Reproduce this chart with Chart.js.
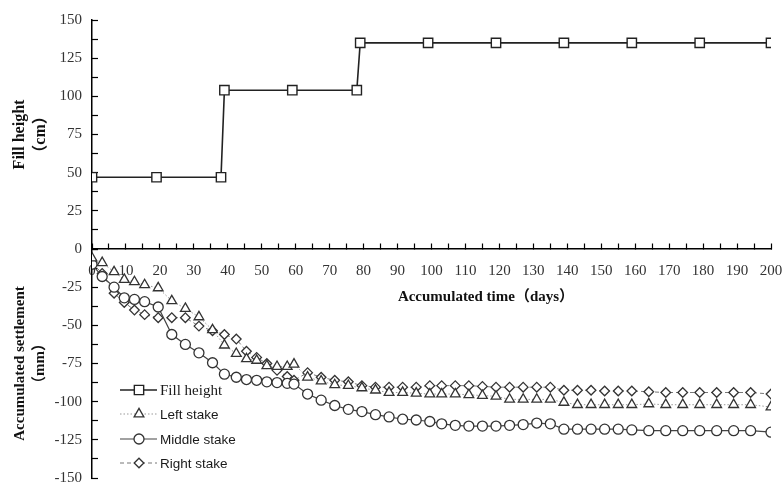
<!DOCTYPE html>
<html>
<head>
<meta charset="utf-8">
<style>
html,body{margin:0;padding:0;background:#fff;}
#wrap{width:784px;height:486px;position:relative;}
</style>
<script src="https://cdn.jsdelivr.net/npm/chart.js"></script>
</head>
<body>
<div id="wrap"><canvas id="c" width="784" height="486"></canvas></div>
<script>
// ---- data ----
const fillDays   = [0, 19, 38, 39, 59, 78, 79, 99, 119, 139, 159, 179, 200];
const fillHeight = [47, 47, 47, 104, 104, 104, 135, 135, 135, 135, 135, 135, 135];

const settleDays = [0, 3, 6.5, 9.5, 12.5, 15.5, 19.5, 23.5, 27.5, 31.5, 35.5,
  39, 42.5, 45.5, 48.5, 51.5, 54.5, 57.5, 59.5, 63.5, 67.5, 71.5, 75.5, 79.5,
  83.5, 87.5, 91.5, 95.5, 99.5, 103, 107, 111, 115, 119, 123, 127, 131, 135,
  139, 143, 147, 151, 155, 159, 164, 169, 174, 179, 184, 189, 194, 200];
const leftStake = [-6, -9, -15, -20, -21.5, -23.5, -25.5, -34, -39, -44.5, -53,
  -63, -68.5, -72, -73, -76.5, -77, -77, -75.5, -84, -86.5, -89, -89.5, -91,
  -92.5, -94, -94, -94.5, -95, -95, -95, -95.5, -96, -96.5, -98.5, -98.5, -98.5, -98.5,
  -100.5, -102, -102, -102, -102, -102, -101.5, -102, -102, -102, -102, -102, -102, -103.5];
const middleStake = [-10, -18, -25, -32, -33, -34.5, -38, -56, -62.5, -68, -74.5,
  -82, -84, -85.5, -86, -87, -87.5, -88, -88.5, -95, -99, -102.5, -105, -106.5,
  -108.5, -110, -111.5, -112, -113, -114.5, -115.5, -116, -116, -116, -115.5, -115, -114, -114.5,
  -118, -118, -118, -118, -118, -118.5, -119, -119, -119, -119, -119, -119, -119, -120];
const rightStake = [-9, -16, -29, -35, -40, -43, -45, -45, -45, -50.5, -53.5,
  -56, -59, -67, -71, -75, -79.5, -83.5, -86, -81, -84, -86, -87, -89.5,
  -90.5, -90.5, -90.5, -90.5, -89.5, -89.5, -89.5, -89.5, -90, -90.5, -90.5, -90.5, -90.5, -90.5,
  -92.5, -92.5, -92.5, -93, -93, -93, -93.5, -94, -94, -94, -94, -94, -94, -95];

const seriesLabels = ['Fill height', 'Left stake', 'Middle stake', 'Right stake'];
const xTickLabels = [0, 10, 20, 30, 40, 50, 60, 70, 80, 90, 100, 110, 120, 130, 140, 150, 160, 170, 180, 190, 200];
const fillTickLabels = [0, 25, 50, 75, 100, 125, 150];
const settleTickLabels = [-150, -125, -100, -75, -50, -25];
const xTitle = 'Accumulated time（days）';
const fillTitle = ['Fill height', '（cm）'];
const settleTitle = ['Accumulated settlement', '（mm）'];

const toXY = (xs, ys) => xs.map((x, i) => ({x: x, y: ys[i]}));

const SERIF = '"Liberation Serif", "Noto Sans CJK SC", serif';
const SANS = '"Liberation Sans", "DejaVu Sans", sans-serif';

const legendRows = [390, 414, 439, 463];
const legendFonts = ['15px ' + SERIF, '13.5px ' + SANS, '13.5px ' + SANS, '13.5px ' + SANS];

function drawMarker(ctx, style, r, x, y) {
  ctx.beginPath();
  if (style === 'rect') {
    const s = Math.SQRT1_2 * r; ctx.rect(x - s, y - s, 2 * s, 2 * s);
  } else if (style === 'triangle') {
    for (let k = 0; k < 3; k++) {
      const a = k * 2 * Math.PI / 3;
      const px = x + Math.sin(a) * r, py = y - Math.cos(a) * r;
      if (k === 0) ctx.moveTo(px, py); else ctx.lineTo(px, py);
    }
    ctx.closePath();
  } else if (style === 'rectRot') {
    ctx.moveTo(x - r, y); ctx.lineTo(x, y - r); ctx.lineTo(x + r, y); ctx.lineTo(x, y + r); ctx.closePath();
  } else {
    ctx.arc(x, y, r, 0, Math.PI * 2);
  }
  ctx.fill(); ctx.stroke();
}

const overlayPlugin = {
  id: 'overlay',
  afterDraw(chart) {
    const ctx = chart.ctx;
    // x axis title
    ctx.save();
    ctx.font = 'bold 15px ' + SERIF;
    ctx.fillStyle = '#111';
    ctx.textAlign = 'center';
    ctx.textBaseline = 'middle';
    ctx.fillText(xTitle, 486, 297);
    ctx.restore();
    // legend
    chart.data.datasets.forEach((ds, i) => {
      const y = legendRows[i];
      ctx.save();
      ctx.strokeStyle = ds.borderColor;
      ctx.lineWidth = ds.borderWidth;
      ctx.setLineDash(ds.borderDash || []);
      ctx.beginPath(); ctx.moveTo(120, y); ctx.lineTo(157, y); ctx.stroke();
      ctx.setLineDash([]);
      ctx.fillStyle = ds.pointBackgroundColor;
      ctx.strokeStyle = ds.pointBorderColor;
      ctx.lineWidth = ds.pointBorderWidth;
      drawMarker(ctx, ds.pointStyle, ds.pointRadius, 139, y);
      ctx.font = legendFonts[i];
      ctx.fillStyle = '#1a1a1a';
      ctx.textAlign = 'left';
      ctx.textBaseline = 'middle';
      ctx.fillText(ds.label, 160, y + 1);
      ctx.restore();
    });
  }
};

const axisGrid = { drawOnChartArea: false, drawTicks: true, tickLength: -6, color: '#000', tickWidth: 1.2 };
const axisBorder = { display: true, color: '#000', width: 1.5 };
const zeroPad = s => { s.paddingLeft = 0; s.paddingRight = 0; s.paddingTop = 0; s.paddingBottom = 0; };

new Chart(document.getElementById('c'), {
  type: 'line',
  data: {
    datasets: [
      { label: seriesLabels[0], data: toXY(fillDays, fillHeight), yAxisID: 'yFill',
        borderColor: '#222', borderWidth: 1.6, pointStyle: 'rect', pointRadius: 6.6,
        pointBackgroundColor: '#fff', pointBorderColor: '#222', pointBorderWidth: 1.4, tension: 0 },
      { label: seriesLabels[1], data: toXY(settleDays, leftStake), yAxisID: 'ySettle',
        borderColor: '#999', borderWidth: 1, borderDash: [1.5, 2], pointStyle: 'triangle', pointRadius: 5.6,
        pointBackgroundColor: '#fff', pointBorderColor: '#333', pointBorderWidth: 1.3, tension: 0 },
      { label: seriesLabels[2], data: toXY(settleDays, middleStake), yAxisID: 'ySettle',
        borderColor: '#444', borderWidth: 1.2, pointStyle: 'circle', pointRadius: 5,
        pointBackgroundColor: '#fff', pointBorderColor: '#333', pointBorderWidth: 1.3, tension: 0 },
      { label: seriesLabels[3], data: toXY(settleDays, rightStake), yAxisID: 'ySettle',
        borderColor: '#777', borderWidth: 1, borderDash: [4, 3], pointStyle: 'rectRot', pointRadius: 4.8,
        pointBackgroundColor: '#fff', pointBorderColor: '#333', pointBorderWidth: 1.3, tension: 0 }
    ]
  },
  options: {
    responsive: false,
    animation: false,
    devicePixelRatio: 1,
    layout: { padding: { left: 0, right: 13, top: 20, bottom: 6 } },
    plugins: { legend: { display: false }, tooltip: { enabled: false }, title: { display: false } },
    scales: {
      x: {
        type: 'linear', min: 0, max: 200, position: { ySettle: 0 },
        afterFit: s => { s.height = 0; zeroPad(s); },
        ticks: { stepSize: 5, autoSkip: false, maxRotation: 0, padding: 19, color: '#333',
                 font: { family: SERIF, size: 15 },
                 callback: v => xTickLabels.includes(v) ? String(v) : '' },
        grid: axisGrid, border: axisBorder,
        title: { display: false }
      },
      ySettle: {
        type: 'linear', min: -150, max: 0, position: 'left', stack: 'y', stackWeight: 1,
        afterFit: s => { s.width = 92; zeroPad(s); },
        ticks: { stepSize: 12.5, autoSkip: false, padding: 16, color: '#333',
                 font: { family: SERIF, size: 15 },
                 callback: v => settleTickLabels.includes(v) ? String(v) : '' },
        grid: axisGrid, border: axisBorder,
        title: { display: true, text: settleTitle, color: '#111',
                 font: { family: SERIF, size: 15, weight: 'bold', lineHeight: 1.35 },
                 padding: { top: 10, bottom: 0 } }
      },
      yFill: {
        type: 'linear', min: 0, max: 150, position: 'left', stack: 'y', stackWeight: 1,
        afterFit: s => { s.width = 92; zeroPad(s); },
        ticks: { stepSize: 12.5, autoSkip: false, padding: 16, color: '#333',
                 font: { family: SERIF, size: 15 },
                 callback: v => fillTickLabels.includes(v) ? String(v) : '' },
        grid: axisGrid, border: axisBorder,
        title: { display: true, text: fillTitle, color: '#111',
                 font: { family: SERIF, size: 16, weight: 'bold', lineHeight: 1.27 },
                 padding: { top: 10, bottom: 0 } }
      }
    }
  },
  plugins: [overlayPlugin]
});
</script>
</body>
</html>
